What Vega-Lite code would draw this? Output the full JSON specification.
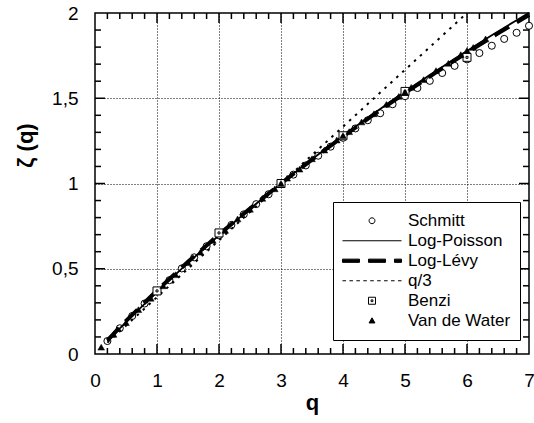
{
  "$schema": "https://vega.github.io/schema/vega-lite/v6.json",
  "width": 434,
  "height": 341,
  "autosize": {"type": "none"},
  "padding": {"left": 95, "top": 13, "right": 5, "bottom": 69},
  "background": "white",
  "datasets": {
    "points": [
      {"series": "Schmitt", "q": 0.2, "zeta": 0.076},
      {"series": "Schmitt", "q": 0.4, "zeta": 0.151},
      {"series": "Schmitt", "q": 0.6, "zeta": 0.223},
      {"series": "Schmitt", "q": 0.8, "zeta": 0.296},
      {"series": "Schmitt", "q": 1.0, "zeta": 0.366},
      {"series": "Schmitt", "q": 1.2, "zeta": 0.433},
      {"series": "Schmitt", "q": 1.4, "zeta": 0.502},
      {"series": "Schmitt", "q": 1.6, "zeta": 0.567},
      {"series": "Schmitt", "q": 1.8, "zeta": 0.632},
      {"series": "Schmitt", "q": 2.0, "zeta": 0.696},
      {"series": "Schmitt", "q": 2.2, "zeta": 0.757},
      {"series": "Schmitt", "q": 2.4, "zeta": 0.819},
      {"series": "Schmitt", "q": 2.6, "zeta": 0.879},
      {"series": "Schmitt", "q": 2.8, "zeta": 0.937},
      {"series": "Schmitt", "q": 3.0, "zeta": 0.996},
      {"series": "Schmitt", "q": 3.2, "zeta": 1.052},
      {"series": "Schmitt", "q": 3.4, "zeta": 1.106},
      {"series": "Schmitt", "q": 3.6, "zeta": 1.163},
      {"series": "Schmitt", "q": 3.8, "zeta": 1.216},
      {"series": "Schmitt", "q": 4.0, "zeta": 1.268},
      {"series": "Schmitt", "q": 4.2, "zeta": 1.323},
      {"series": "Schmitt", "q": 4.4, "zeta": 1.371},
      {"series": "Schmitt", "q": 4.6, "zeta": 1.412},
      {"series": "Schmitt", "q": 4.8, "zeta": 1.465},
      {"series": "Schmitt", "q": 5.0, "zeta": 1.512},
      {"series": "Schmitt", "q": 5.2, "zeta": 1.560},
      {"series": "Schmitt", "q": 5.4, "zeta": 1.602},
      {"series": "Schmitt", "q": 5.6, "zeta": 1.648},
      {"series": "Schmitt", "q": 5.8, "zeta": 1.690},
      {"series": "Schmitt", "q": 6.0, "zeta": 1.728},
      {"series": "Schmitt", "q": 6.2, "zeta": 1.765},
      {"series": "Schmitt", "q": 6.4, "zeta": 1.808},
      {"series": "Schmitt", "q": 6.6, "zeta": 1.848},
      {"series": "Schmitt", "q": 6.8, "zeta": 1.884},
      {"series": "Schmitt", "q": 7.0, "zeta": 1.925},
      {"series": "Benzi", "q": 1, "zeta": 0.37},
      {"series": "Benzi", "q": 2, "zeta": 0.71},
      {"series": "Benzi", "q": 3, "zeta": 1.0},
      {"series": "Benzi", "q": 4, "zeta": 1.28},
      {"series": "Benzi", "q": 5, "zeta": 1.54},
      {"series": "Benzi", "q": 6, "zeta": 1.74},
      {"series": "Van de Water", "q": 0.1, "zeta": 0.040},
      {"series": "Van de Water", "q": 0.3, "zeta": 0.115},
      {"series": "Van de Water", "q": 0.5, "zeta": 0.184},
      {"series": "Van de Water", "q": 0.7, "zeta": 0.260},
      {"series": "Van de Water", "q": 0.9, "zeta": 0.327},
      {"series": "Van de Water", "q": 1.1, "zeta": 0.400},
      {"series": "Van de Water", "q": 1.3, "zeta": 0.465},
      {"series": "Van de Water", "q": 1.5, "zeta": 0.536},
      {"series": "Van de Water", "q": 1.7, "zeta": 0.597},
      {"series": "Van de Water", "q": 1.9, "zeta": 0.666},
      {"series": "Van de Water", "q": 2.1, "zeta": 0.725},
      {"series": "Van de Water", "q": 2.3, "zeta": 0.792},
      {"series": "Van de Water", "q": 2.5, "zeta": 0.849},
      {"series": "Van de Water", "q": 2.7, "zeta": 0.913},
      {"series": "Van de Water", "q": 2.9, "zeta": 0.969},
      {"series": "Van de Water", "q": 3.0, "zeta": 1.000},
      {"series": "Van de Water", "q": 3.1, "zeta": 1.031},
      {"series": "Van de Water", "q": 3.3, "zeta": 1.084},
      {"series": "Van de Water", "q": 3.5, "zeta": 1.145},
      {"series": "Van de Water", "q": 3.7, "zeta": 1.196},
      {"series": "Van de Water", "q": 3.9, "zeta": 1.255},
      {"series": "Van de Water", "q": 4.0, "zeta": 1.281},
      {"series": "Van de Water", "q": 4.1, "zeta": 1.304},
      {"series": "Van de Water", "q": 4.3, "zeta": 1.361},
      {"series": "Van de Water", "q": 4.5, "zeta": 1.409},
      {"series": "Van de Water", "q": 4.7, "zeta": 1.464},
      {"series": "Van de Water", "q": 4.9, "zeta": 1.511},
      {"series": "Van de Water", "q": 5.0, "zeta": 1.536},
      {"series": "Van de Water", "q": 5.1, "zeta": 1.564},
      {"series": "Van de Water", "q": 5.3, "zeta": 1.609},
      {"series": "Van de Water", "q": 5.5, "zeta": 1.662},
      {"series": "Van de Water", "q": 5.7, "zeta": 1.705},
      {"series": "Van de Water", "q": 5.9, "zeta": 1.756},
      {"series": "Van de Water", "q": 6.0, "zeta": 1.780},
      {"series": "Van de Water", "q": 6.1, "zeta": 1.798},
      {"series": "Van de Water", "q": 6.3, "zeta": 1.848}
    ],
    "curves": [
      {"series": "Log-Poisson", "q": 0.2, "zeta": 0.0756},
      {"series": "Log-Poisson", "q": 0.4, "zeta": 0.1497},
      {"series": "Log-Poisson", "q": 0.6, "zeta": 0.2224},
      {"series": "Log-Poisson", "q": 0.8, "zeta": 0.2938},
      {"series": "Log-Poisson", "q": 1.0, "zeta": 0.3640},
      {"series": "Log-Poisson", "q": 1.2, "zeta": 0.4328},
      {"series": "Log-Poisson", "q": 1.4, "zeta": 0.5004},
      {"series": "Log-Poisson", "q": 1.6, "zeta": 0.5667},
      {"series": "Log-Poisson", "q": 1.8, "zeta": 0.6319},
      {"series": "Log-Poisson", "q": 2.0, "zeta": 0.6959},
      {"series": "Log-Poisson", "q": 2.2, "zeta": 0.7589},
      {"series": "Log-Poisson", "q": 2.4, "zeta": 0.8207},
      {"series": "Log-Poisson", "q": 2.6, "zeta": 0.8815},
      {"series": "Log-Poisson", "q": 2.8, "zeta": 0.9413},
      {"series": "Log-Poisson", "q": 3.0, "zeta": 1.0000},
      {"series": "Log-Poisson", "q": 3.2, "zeta": 1.0578},
      {"series": "Log-Poisson", "q": 3.4, "zeta": 1.1146},
      {"series": "Log-Poisson", "q": 3.6, "zeta": 1.1705},
      {"series": "Log-Poisson", "q": 3.8, "zeta": 1.2255},
      {"series": "Log-Poisson", "q": 4.0, "zeta": 1.2796},
      {"series": "Log-Poisson", "q": 4.2, "zeta": 1.3329},
      {"series": "Log-Poisson", "q": 4.4, "zeta": 1.3854},
      {"series": "Log-Poisson", "q": 4.6, "zeta": 1.4370},
      {"series": "Log-Poisson", "q": 4.8, "zeta": 1.4879},
      {"series": "Log-Poisson", "q": 5.0, "zeta": 1.5380},
      {"series": "Log-Poisson", "q": 5.2, "zeta": 1.5874},
      {"series": "Log-Poisson", "q": 5.4, "zeta": 1.6360},
      {"series": "Log-Poisson", "q": 5.6, "zeta": 1.6839},
      {"series": "Log-Poisson", "q": 5.8, "zeta": 1.7312},
      {"series": "Log-Poisson", "q": 6.0, "zeta": 1.7778},
      {"series": "Log-Poisson", "q": 6.2, "zeta": 1.8237},
      {"series": "Log-Poisson", "q": 6.4, "zeta": 1.8690},
      {"series": "Log-Poisson", "q": 6.6, "zeta": 1.9137},
      {"series": "Log-Poisson", "q": 6.8, "zeta": 1.9578},
      {"series": "Log-Poisson", "q": 7.0, "zeta": 2.0013},
      {"series": "Log-Lévy", "q": 0.2, "zeta": 0.0805},
      {"series": "Log-Lévy", "q": 0.5, "zeta": 0.1943},
      {"series": "Log-Lévy", "q": 1.0, "zeta": 0.3728},
      {"series": "Log-Lévy", "q": 1.5, "zeta": 0.5410},
      {"series": "Log-Lévy", "q": 2.0, "zeta": 0.7010},
      {"series": "Log-Lévy", "q": 2.5, "zeta": 0.8537},
      {"series": "Log-Lévy", "q": 3.0, "zeta": 1.0000},
      {"series": "Log-Lévy", "q": 3.5, "zeta": 1.1405},
      {"series": "Log-Lévy", "q": 4.0, "zeta": 1.2756},
      {"series": "Log-Lévy", "q": 4.5, "zeta": 1.4056},
      {"series": "Log-Lévy", "q": 5.0, "zeta": 1.5309},
      {"series": "Log-Lévy", "q": 5.5, "zeta": 1.6516},
      {"series": "Log-Lévy", "q": 6.0, "zeta": 1.7682},
      {"series": "Log-Lévy", "q": 6.5, "zeta": 1.8803},
      {"series": "Log-Lévy", "q": 7.0, "zeta": 1.9886},
      {"series": "q/3", "q": 0.2, "zeta": 0.0667},
      {"series": "q/3", "q": 6.0, "zeta": 2.0}
    ],
    "qTicks": [
      {"q": 0.2}, {"q": 0.4}, {"q": 0.6}, {"q": 0.8}, {"q": 1},
      {"q": 1.2}, {"q": 1.4}, {"q": 1.6}, {"q": 1.8}, {"q": 2},
      {"q": 2.2}, {"q": 2.4}, {"q": 2.6}, {"q": 2.8}, {"q": 3},
      {"q": 3.2}, {"q": 3.4}, {"q": 3.6}, {"q": 3.8}, {"q": 4},
      {"q": 4.2}, {"q": 4.4}, {"q": 4.6}, {"q": 4.8}, {"q": 5},
      {"q": 5.2}, {"q": 5.4}, {"q": 5.6}, {"q": 5.8}, {"q": 6},
      {"q": 6.2}, {"q": 6.4}, {"q": 6.6}, {"q": 6.8}
    ],
    "zetaTicks": [
      {"zeta": 0.1}, {"zeta": 0.2}, {"zeta": 0.3}, {"zeta": 0.4}, {"zeta": 0.5},
      {"zeta": 0.6}, {"zeta": 0.7}, {"zeta": 0.8}, {"zeta": 0.9}, {"zeta": 1},
      {"zeta": 1.1}, {"zeta": 1.2}, {"zeta": 1.3}, {"zeta": 1.4}, {"zeta": 1.5},
      {"zeta": 1.6}, {"zeta": 1.7}, {"zeta": 1.8}, {"zeta": 1.9}
    ]
  },
  "config": {
    "view": {"stroke": "black", "strokeWidth": 1.5},
    "axis": {
      "domain": false,
      "ticks": false,
      "labelFont": "Liberation Sans",
      "labelFontSize": 19,
      "labelColor": "black",
      "titleFont": "Liberation Sans",
      "titleFontSize": 22,
      "titleFontWeight": "bold",
      "titleColor": "black"
    },
    "legend": {
      "orient": "none",
      "title": null,
      "direction": "vertical",
      "columns": 1,
      "padding": 9,
      "clipHeight": 19.5,
      "rowPadding": 0,
      "labelOffset": 6,
      "symbolOffset": 0,
      "labelFont": "Liberation Sans",
      "labelFontSize": 17,
      "labelColor": "black",
      "labelLimit": 300,
      "symbolSize": 3481,
      "symbolStrokeWidth": 1,
      "symbolOpacity": 1
    }
  },
  "resolve": {"axis": {"x": "independent", "y": "independent"}},
  "layer": [
    {
      "description": "legend key: shadow box first, then the framed key with symbols and names",
      "data": {"name": "curves"},
      "mark": {"type": "point", "opacity": 0},
      "encoding": {
        "x": {"field": "q", "type": "quantitative", "axis": null},
        "y": {"field": "zeta", "type": "quantitative", "axis": null},
        "color": {
          "field": "series",
          "type": "nominal",
          "scale": {
            "domain": ["Van de Water", "Benzi", "q/3", "Log-Lévy", "Log-Poisson", "Schmitt"],
            "range": ["black", "black", "black", "black", "black", "black"]
          },
          "legend": {
            "orient": "none",
            "legendX": 242,
            "legendY": 193,
            "fillColor": "black",
            "strokeColor": "black",
            "symbolType": "circle",
            "symbolOpacity": 0
          }
        },
        "fill": {
          "field": "series",
          "type": "nominal",
          "scale": {
            "domain": ["Schmitt", "Log-Poisson", "Log-Lévy", "q/3", "Benzi", "Van de Water"],
            "range": ["white", "transparent", "black", "transparent", "white", "black"]
          },
          "legend": {
            "orient": "none",
            "legendX": 238,
            "legendY": 189,
            "fillColor": "white",
            "strokeColor": "black",
            "symbolOpacity": 1
          }
        },
        "stroke": {
          "field": "series",
          "type": "nominal",
          "scale": {
            "domain": ["Schmitt", "Log-Poisson", "Log-Lévy", "q/3", "Benzi", "Van de Water"],
            "range": ["black", "black", "black", "black", "black", "black"]
          },
          "legend": {
            "orient": "none",
            "legendX": 238,
            "legendY": 189,
            "fillColor": "white",
            "strokeColor": "black",
            "symbolOpacity": 1
          }
        },
        "shape": {
          "field": "series",
          "type": "nominal",
          "scale": {
            "domain": ["Schmitt", "Log-Poisson", "Log-Lévy", "q/3", "Benzi", "Van de Water"],
            "range": [
              "M0.1,0A0.1,0.1,0,1,1,-0.1,0A0.1,0.1,0,1,1,0.1,0Z",
              "M-1,0H1",
              "M-1,-0.055H-0.424V0.055H-1ZM-0.119,-0.055H0.457V0.055H-0.119ZM0.762,-0.055H1V0.055H0.762Z",
              "M-1,0H-0.88M-0.765,0H-0.645M-0.53,0H-0.41M-0.295,0H-0.175M-0.06,0H0.06M0.175,0H0.295M0.41,0H0.53M0.645,0H0.765M0.88,0H1",
              "M-0.119,-0.119H0.119V0.119H-0.119ZM-0.03,-0.03H0.03V0.03H-0.03Z",
              "M0,-0.1L0.1,0.075L-0.1,0.075Z"
            ]
          },
          "legend": {
            "orient": "none",
            "legendX": 238,
            "legendY": 189,
            "fillColor": "white",
            "strokeColor": "black",
            "symbolOpacity": 1
          }
        }
      }
    },
    {
      "data": {"name": "points"},
      "transform": [{"filter": "datum.series === 'Schmitt'"}],
      "mark": {"type": "point", "shape": "circle", "filled": true, "fill": "white", "stroke": "black", "strokeWidth": 1, "size": 50, "opacity": 1},
      "encoding": {
        "x": {
          "field": "q",
          "type": "quantitative",
          "scale": {"domain": [0, 7], "nice": false, "zero": false},
          "axis": {
            "orient": "bottom",
            "values": [0, 1, 2, 3, 4, 5, 6, 7],
            "labelExpr": "format(datum.value, 'd')",
            "labelOverlap": false,
            "labelFlush": false,
            "labelBound": false,
            "labelPadding": 17,
            "grid": true,
            "gridColor": "black",
            "gridDash": [1, 2],
            "gridWidth": 1,
            "gridOpacity": {"condition": {"test": "datum.value < 0.01 || datum.value > 6.99", "value": 0}, "value": 1},
            "title": "q",
            "titleX": 217,
            "titleY": 55,
            "titleAlign": "center",
            "titleBaseline": "alphabetic"
          }
        },
        "y": {
          "field": "zeta",
          "type": "quantitative",
          "scale": {"domain": [0, 2], "nice": false, "zero": false},
          "axis": {
            "orient": "left",
            "values": [0, 0.5, 1, 1.5, 2],
            "labelExpr": "replace(format(datum.value, '~g'), '.', ',')",
            "labelOverlap": false,
            "labelFlush": false,
            "labelBound": false,
            "labelPadding": 17,
            "grid": true,
            "gridColor": "black",
            "gridDash": [1, 2],
            "gridWidth": 1,
            "gridOpacity": {"condition": {"test": "datum.value < 0.01 || datum.value > 1.99", "value": 0}, "value": 1},
            "title": "ζ (q)",
            "titleAngle": -90,
            "titleX": -63,
            "titleY": 132,
            "titleAlign": "center",
            "titleBaseline": "alphabetic"
          }
        }
      }
    },
    {
      "description": "inward ticks along the bottom frame",
      "data": {"name": "qTicks"},
      "mark": {"type": "tick", "orient": "vertical", "clip": true, "thickness": 1.5, "color": "black", "opacity": 1},
      "encoding": {
        "x": {"field": "q", "type": "quantitative", "axis": null},
        "y": {"datum": 0, "type": "quantitative", "axis": null},
        "size": {"condition": {"test": "abs(datum.q - round(datum.q)) < 0.001", "value": 20}, "value": 12}
      }
    },
    {
      "description": "inward ticks along the top frame",
      "data": {"name": "qTicks"},
      "mark": {"type": "tick", "orient": "vertical", "clip": true, "thickness": 1.5, "color": "black", "opacity": 1},
      "encoding": {
        "x": {"field": "q", "type": "quantitative", "axis": null},
        "y": {"datum": 2, "type": "quantitative", "axis": null},
        "size": {"condition": {"test": "abs(datum.q - round(datum.q)) < 0.001", "value": 20}, "value": 12}
      }
    },
    {
      "description": "inward ticks along the left frame",
      "data": {"name": "zetaTicks"},
      "mark": {"type": "tick", "orient": "horizontal", "clip": true, "thickness": 1.5, "color": "black", "opacity": 1},
      "encoding": {
        "x": {"datum": 0, "type": "quantitative", "axis": null},
        "y": {"field": "zeta", "type": "quantitative", "axis": null},
        "size": {"condition": {"test": "abs(datum.zeta * 2 - round(datum.zeta * 2)) < 0.001", "value": 20}, "value": 12}
      }
    },
    {
      "description": "inward ticks along the right frame",
      "data": {"name": "zetaTicks"},
      "mark": {"type": "tick", "orient": "horizontal", "clip": true, "thickness": 1.5, "color": "black", "opacity": 1},
      "encoding": {
        "x": {"datum": 7, "type": "quantitative", "axis": null},
        "y": {"field": "zeta", "type": "quantitative", "axis": null},
        "size": {"condition": {"test": "abs(datum.zeta * 2 - round(datum.zeta * 2)) < 0.001", "value": 20}, "value": 12}
      }
    },
    {
      "data": {"name": "curves"},
      "transform": [{"filter": "datum.series === 'q/3'"}],
      "mark": {"type": "line", "color": "black", "strokeWidth": 2, "strokeDash": [2.5, 5.5]},
      "encoding": {
        "x": {"field": "q", "type": "quantitative", "axis": null},
        "y": {"field": "zeta", "type": "quantitative", "axis": null}
      }
    },
    {
      "data": {"name": "curves"},
      "transform": [{"filter": "datum.series === 'Log-Lévy'"}],
      "mark": {"type": "line", "color": "black", "strokeWidth": 4, "strokeDash": [17, 9]},
      "encoding": {
        "x": {"field": "q", "type": "quantitative", "axis": null},
        "y": {"field": "zeta", "type": "quantitative", "axis": null}
      }
    },
    {
      "data": {"name": "curves"},
      "transform": [{"filter": "datum.series === 'Log-Poisson'"}],
      "mark": {"type": "line", "color": "black", "strokeWidth": 1.8},
      "encoding": {
        "x": {"field": "q", "type": "quantitative", "axis": null},
        "y": {"field": "zeta", "type": "quantitative", "axis": null}
      }
    },
    {
      "data": {"name": "points"},
      "transform": [{"filter": "datum.series === 'Benzi'"}],
      "mark": {"type": "point", "shape": "M-1,-1H1V1H-1ZM-0.25,-0.25H0.25V0.25H-0.25Z", "filled": true, "fill": "white", "stroke": "black", "strokeWidth": 1, "size": 64, "opacity": 1},
      "encoding": {
        "x": {"field": "q", "type": "quantitative", "axis": null},
        "y": {"field": "zeta", "type": "quantitative", "axis": null}
      }
    },
    {
      "data": {"name": "points"},
      "transform": [{"filter": "datum.series === 'Van de Water'"}],
      "mark": {"type": "point", "shape": "triangle-up", "filled": true, "fill": "black", "stroke": "black", "strokeWidth": 0.5, "size": 45, "opacity": 1},
      "encoding": {
        "x": {"field": "q", "type": "quantitative", "axis": null},
        "y": {"field": "zeta", "type": "quantitative", "axis": null}
      }
    }
  ]
}
